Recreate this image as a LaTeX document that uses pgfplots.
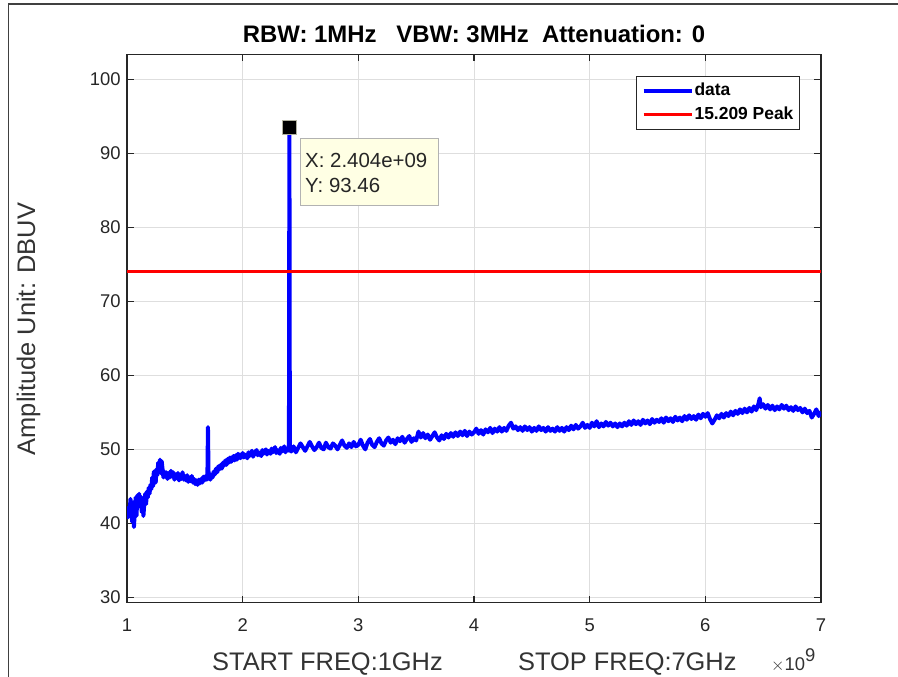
\documentclass[border=0pt]{standalone}
\usepackage{fontspec}
\setmainfont{Liberation Sans}
\usepackage{pgfplots}
\pgfplotsset{compat=1.18}

\definecolor{tipbg}{RGB}{255,255,228}
\definecolor{gridc}{RGB}{222,222,222}

\begin{document}
\begin{tikzpicture}
\path[use as bounding box] (0,0) rectangle (898bp,677bp);
\draw[black!75, line width=1.5bp] (8.5bp,0) -- (8.5bp,673bp) -- (898bp,673bp);
\begin{axis}[
  at={(127bp,74.3bp)}, anchor=south west,
  width=694bp, height=548.4bp, scale only axis,
  xmin=1, xmax=7, ymin=29.27, ymax=103.4,
  xtick={1,2,...,7}, ytick={30,40,...,100},
  grid=major, grid style={gridc, line width=1bp},
  tick align=inside, major tick length=7bp,
  axis line style={black!85, line width=1.2bp},
  every tick/.style={black!85, line width=1.2bp},
  /pgf/number format/assume math mode=true,
  tick label style={font=\fontsize{18.5}{20}\selectfont, text=black!85},
  xticklabel style={yshift=-12.8bp},
  yticklabel style={xshift=-2.8bp},
  legend style={at={(0.9697,0.961)}, anchor=north east,
    draw=black!85, line width=1bp, inner sep=5bp,
    font=\bfseries\fontsize{17.5}{19}\selectfont,
    nodes={inner sep=1bp, text height=13bp, text depth=4bp},
    row sep=5bp},
  legend cell align=left,
  legend image code/.code={\draw[#1] (0bp,0bp) -- (48bp,0bp);},
]
\addplot[blue, line width=4bp, line join=round] coordinates {
(1.000,42.3) (1.008,40.8) (1.015,42.0) (1.022,41.2) (1.030,43.3) (1.038,41.5)
(1.045,40.2) (1.052,42.8) (1.060,39.5) (1.068,41.8) (1.075,43.5) (1.082,41.0)
(1.090,43.8) (1.098,42.2) (1.105,44.0) (1.112,42.5) (1.120,43.6) (1.128,41.5)
(1.135,43.2) (1.142,41.0) (1.150,42.8) (1.158,44.0) (1.165,42.6) (1.172,44.3)
(1.180,43.5) (1.188,44.8) (1.195,44.0) (1.202,45.2) (1.210,44.6) (1.218,46.2)
(1.225,45.0) (1.232,47.0) (1.240,46.0) (1.248,45.5) (1.255,47.3) (1.262,46.5)
(1.270,48.2) (1.278,47.0) (1.285,48.6) (1.292,46.8) (1.300,48.4) (1.308,47.2)
(1.315,46.2) (1.322,47.0) (1.330,46.3)
(1.34,46.9) (1.35,46.0) (1.36,46.8) (1.37,46.2) (1.38,47.1) (1.39,46.3)
(1.40,46.9) (1.41,45.9) (1.42,46.6) (1.43,46.1) (1.44,46.8) (1.45,45.8)
(1.46,46.5) (1.47,46.0) (1.48,46.9) (1.49,45.9) (1.50,46.4) (1.51,45.8)
(1.52,46.5) (1.53,45.6) (1.54,46.2) (1.55,45.7) (1.56,46.4) (1.57,45.5)
(1.58,46.0) (1.59,45.3) (1.60,45.8) (1.61,45.2) (1.62,45.9) (1.63,45.4)
(1.64,46.0) (1.65,45.5) (1.66,46.3) (1.67,45.8) (1.68,46.4) (1.69,45.9)
(1.695,46.3) (1.700,53.0) (1.705,46.5)
(1.72,45.9) (1.73,46.6) (1.74,46.2) (1.75,47.0) (1.76,46.6) (1.77,47.4)
(1.78,46.9) (1.79,47.7) (1.80,47.3) (1.81,47.9) (1.82,47.4) (1.83,48.2)
(1.84,47.8) (1.85,48.5) (1.86,47.9) (1.87,48.7) (1.88,48.2) (1.89,48.9)
(1.90,48.3) (1.92,49.1) (1.93,48.5) (1.94,49.2) (1.95,48.6) (1.96,49.4)
(1.98,48.8) (2.00,49.5) (2.01,48.9) (2.02,49.3) (2.04,48.8) (2.05,49.6)
(2.06,49.1) (2.08,49.8) (2.09,49.0) (2.10,49.4) (2.12,49.9) (2.13,49.2)
(2.14,49.6) (2.16,49.1) (2.17,49.9) (2.18,49.4) (2.20,50.0) (2.21,49.3)
(2.22,49.8) (2.24,49.4) (2.25,50.1) (2.26,49.6) (2.28,50.3) (2.29,49.5)
(2.30,49.9) (2.32,49.4) (2.33,50.2) (2.34,49.7) (2.36,50.4) (2.37,49.6)
(2.38,50.1) (2.40,49.8) (2.404,93.46) (2.408,50.3) (2.42,49.7)
(2.44,50.4) (2.46,49.6) (2.48,50.2) (2.50,50.8) (2.52,50.3) (2.54,49.8)
(2.56,50.4) (2.58,51.0) (2.60,50.4) (2.62,49.9) (2.64,50.3) (2.66,50.9)
(2.68,50.2) (2.70,50.0) (2.72,50.9) (2.74,50.3) (2.76,50.1) (2.78,50.8)
(2.80,50.5) (2.82,50.0) (2.84,50.6) (2.86,51.2) (2.88,50.5) (2.90,50.2)
(2.92,50.8) (2.94,50.3) (2.96,51.0) (2.98,50.4) (3.00,50.6) (3.02,51.3)
(3.04,50.5) (3.06,50.0) (3.08,50.9) (3.10,51.4) (3.12,50.6) (3.14,50.3)
(3.16,51.0) (3.18,51.5) (3.20,50.8) (3.22,50.5) (3.24,51.2) (3.26,51.6)
(3.28,50.9) (3.30,51.3) (3.32,50.7) (3.34,51.5) (3.36,51.1) (3.38,51.7)
(3.40,50.9) (3.42,51.4) (3.44,51.8) (3.46,51.0) (3.48,51.5) (3.50,51.2)
(3.52,52.4) (3.54,51.6) (3.56,52.2) (3.58,51.5) (3.60,52.0) (3.62,51.3)
(3.64,51.8) (3.66,52.3) (3.68,51.6) (3.70,51.2) (3.72,51.9) (3.74,51.4)
(3.76,52.1) (3.78,51.6) (3.80,52.2) (3.82,51.7) (3.84,52.3) (3.86,51.8)
(3.88,52.4) (3.90,51.9) (3.92,52.5) (3.94,51.8) (3.96,52.4) (3.98,52.0)
(4.00,52.3) (4.02,52.8) (4.04,52.1) (4.06,52.6) (4.08,52.0) (4.10,52.7)
(4.12,52.3) (4.14,52.9) (4.16,52.2) (4.18,52.8) (4.20,52.4) (4.22,53.0)
(4.24,52.4) (4.26,52.9) (4.28,52.5) (4.30,53.2) (4.32,53.6) (4.34,52.8)
(4.36,53.1) (4.38,52.6) (4.40,53.0) (4.42,52.5) (4.44,53.1) (4.46,52.6)
(4.48,53.0) (4.50,52.4) (4.52,52.9) (4.54,52.5) (4.56,53.1) (4.58,52.6)
(4.60,52.9) (4.62,52.4) (4.64,53.0) (4.66,52.5) (4.68,52.8) (4.70,52.4)
(4.72,53.0) (4.74,52.5) (4.76,52.9) (4.78,52.4) (4.80,53.0) (4.82,52.6)
(4.84,53.2) (4.86,52.7) (4.88,53.3) (4.90,52.8) (4.92,53.1) (4.94,53.6)
(4.96,52.9) (4.98,53.3) (5.00,52.9) (5.02,53.6) (5.04,53.1) (5.06,53.8)
(5.08,53.0) (5.10,53.5) (5.12,53.1) (5.14,53.7) (5.16,53.2) (5.18,53.6)
(5.20,53.1) (5.22,53.5) (5.24,53.0) (5.26,53.5) (5.28,53.1) (5.30,53.6)
(5.32,53.2) (5.34,53.8) (5.36,53.3) (5.38,53.9) (5.40,53.4) (5.42,53.8)
(5.44,53.3) (5.46,54.0) (5.48,53.5) (5.50,53.9) (5.52,53.4) (5.54,54.1)
(5.56,53.6) (5.58,54.0) (5.60,53.7) (5.62,54.2) (5.64,53.6) (5.66,54.3)
(5.68,53.8) (5.70,54.2) (5.72,53.7) (5.74,54.4) (5.76,53.9) (5.78,54.3)
(5.80,53.8) (5.82,54.5) (5.84,54.0) (5.86,54.6) (5.88,54.1) (5.90,54.5)
(5.92,54.0) (5.94,54.7) (5.96,54.2) (5.98,54.8) (6.00,54.4) (6.02,54.9)
(6.04,54.1) (6.06,53.5) (6.08,54.0) (6.10,54.6) (6.12,54.2) (6.14,54.8)
(6.16,54.3) (6.18,54.9) (6.20,54.5) (6.22,55.1) (6.24,54.6) (6.26,55.2)
(6.28,54.8) (6.30,55.4) (6.32,54.9) (6.34,55.5) (6.36,55.0) (6.38,55.6)
(6.40,55.1) (6.42,55.8) (6.44,55.3) (6.46,56.2) (6.47,56.9) (6.48,55.7)
(6.50,56.1) (6.52,55.5) (6.54,56.0) (6.56,55.4) (6.58,55.9) (6.60,55.3)
(6.62,55.8) (6.64,55.4) (6.66,56.0) (6.68,55.5) (6.70,55.9) (6.72,55.3)
(6.74,55.7) (6.76,55.2) (6.78,55.8) (6.80,55.3) (6.82,55.6) (6.84,55.0)
(6.86,55.5) (6.88,54.9) (6.90,55.2) (6.92,54.3) (6.94,54.8) (6.96,55.4)
(6.98,54.5) (7.00,55.1)
};
\addlegendentry{data}
\addplot[red, line width=3bp] coordinates {(1,74) (7,74)};
\addlegendentry{15.209 Peak}
\addplot[only marks, mark=square*, mark size=7bp,
  mark options={fill=black, draw=tipbg!70!black, line width=0.8bp}, forget plot]
  coordinates {(2.404,93.46)};
\end{axis}
% data tip
\draw[fill=tipbg, draw=black!30, line width=1bp] (300bp,471bp) rectangle (438.3bp,538.7bp);
\node[anchor=base west, inner sep=0, text=black!85, font=\fontsize{20.5}{22}\selectfont]
  at (305bp,509bp) {X: 2.404e+09};
\node[anchor=base west, inner sep=0, text=black!85, font=\fontsize{20.5}{22}\selectfont]
  at (305bp,484bp) {Y: 93.46};
% title and labels
\node[anchor=base, inner sep=0, font=\bfseries\fontsize{24}{26}\selectfont, text=black]
  at (474bp,634bp) {RBW: 1MHz\ \ \ VBW: 3MHz\ \ Attenuation: 0};
\node[anchor=base west, inner sep=0, font=\fontsize{25.5}{27}\selectfont, text=black!80]
  at (212bp,7bp) {START FREQ:1GHz};
\node[anchor=base west, inner sep=0, font=\fontsize{25.5}{27}\selectfont, text=black!80]
  at (518bp,7bp) {STOP FREQ:7GHz};
\node[anchor=base, rotate=90, inner sep=0, font=\fontsize{25.5}{27}\selectfont, text=black!80]
  at (35bp,348bp) {Amplitude Unit: DBUV};
\node[anchor=base west, inner sep=0, font=\fontsize{18.5}{20}\selectfont, text=black!80]
  at (771bp,7bp) {$\times$10\raisebox{9bp}{\fontsize{18.5}{20}\selectfont 9}};
\end{tikzpicture}
\end{document}
